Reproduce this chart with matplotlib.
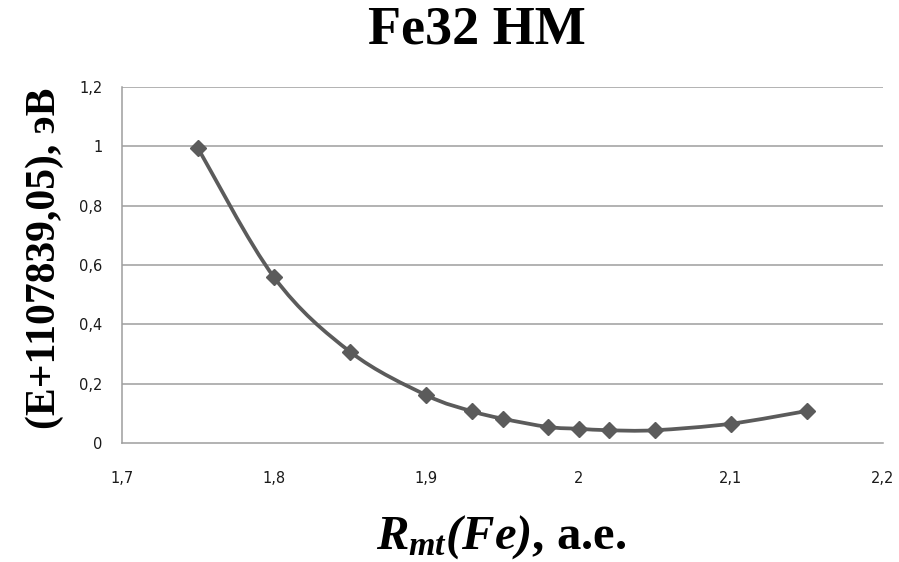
import numpy as np
import matplotlib.pyplot as plt
from matplotlib.path import Path
from matplotlib.patches import PathPatch

# ==============================================================================
# DATA
# ==============================================================================
r_mt   = [1.75, 1.80, 1.85, 1.90, 1.93, 1.95, 1.98, 2.00, 2.02, 2.05, 2.10, 2.15]
energy = [0.993, 0.558, 0.307, 0.161, 0.107, 0.082, 0.054, 0.048, 0.043, 0.043, 0.065, 0.108]

x_ticks  = [1.7, 1.8, 1.9, 2.0, 2.1, 2.2]
x_labels = ["1,7", "1,8", "1,9", "2", "2,1", "2,2"]
y_ticks  = [0, 0.2, 0.4, 0.6, 0.8, 1.0, 1.2]
y_labels = ["0", "0,2", "0,4", "0,6", "0,8", "1", "1,2"]

line_col = "#5b5b5b"
grid_col = "#9e9e9e"

plt.rcParams["mathtext.fontset"] = "custom"
plt.rcParams["mathtext.it"] = "Liberation Serif:italic:bold"
plt.rcParams["mathtext.rm"] = "Liberation Serif:italic:bold"

# ==============================================================================
# FIGURE
# ==============================================================================
fig = plt.figure(figsize=(8.99, 5.62), dpi=100)
ax = fig.add_axes([122 / 899, 1 - 443 / 562, 761 / 899, 356 / 562])

# smooth curve through the points (Catmull-Rom -> cubic Bezier, like Excel)
xs = np.array(r_mt)
ys = np.array(energy)
px = np.concatenate([[xs[0]], xs, [xs[-1]]])
py = np.concatenate([[ys[0]], ys, [ys[-1]]])
verts = [(xs[0], ys[0])]
codes = [Path.MOVETO]
t = 1 / 6
for i in range(1, len(px) - 2):
    c1 = (px[i] + (px[i + 1] - px[i - 1]) * t, py[i] + (py[i + 1] - py[i - 1]) * t)
    c2 = (px[i + 1] - (px[i + 2] - px[i]) * t, py[i + 1] - (py[i + 2] - py[i]) * t)
    verts += [c1, c2, (px[i + 1], py[i + 1])]
    codes += [Path.CURVE4] * 3
ax.add_patch(PathPatch(Path(verts, codes), facecolor="none", edgecolor=line_col,
                       lw=2.7, zorder=3, capstyle="round", joinstyle="round"))
ax.plot(r_mt, energy, ls="none", marker="D", ms=8, color=line_col, zorder=4)

ax.set_xlim(1.7, 2.2)
ax.set_ylim(0, 1.2)
ax.set_xticks(x_ticks)
ax.set_xticklabels(x_labels)
ax.set_yticks(y_ticks)
ax.set_yticklabels(y_labels)
ax.tick_params(length=0, labelsize=10.5, colors="#1a1a1a")
ax.tick_params(axis="x", pad=20)
ax.tick_params(axis="y", pad=14)

for yv in y_ticks[1:]:
    ax.axhline(yv, color=grid_col, lw=1.1, zorder=1)
for side in ["top", "right"]:
    ax.spines[side].set_visible(False)
for side in ["left", "bottom"]:
    ax.spines[side].set_color(grid_col)
    ax.spines[side].set_linewidth(1.1)

fig.text(0.53, 0.945, "Fe32 HM", ha="center", va="center",
         family="Liberation Serif", weight="bold", fontsize=39)
fig.text(0.05, 0.54, "(E+1107839,05), эВ", ha="center", va="center", rotation=90,
         family="Liberation Serif", weight="bold", fontsize=30)
fig.text(0.558, 0.044, r"$R_{mt}(Fe)$, a.e.", ha="center", va="center",
         family="Liberation Serif", weight="bold", fontsize=35)

fig.savefig("out.png", dpi=100)
